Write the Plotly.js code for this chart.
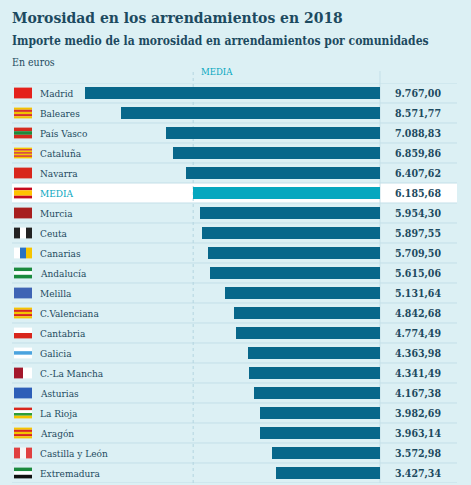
<!DOCTYPE html>
<html>
<head>
<meta charset="utf-8">
<script src="https://cdn.plot.ly/plotly-3.0.1.min.js"></script>
<style>
  html, body { margin: 0; padding: 0; background: #dcf0f4; }
  #chart { width: 471px; height: 485px; }
</style>
</head>
<body>
<div id="chart"></div>
<script>
// Importe medio de la morosidad (euros), 2018
var regions = ["Madrid", "Baleares", "País Vasco", "Cataluña", "Navarra", "MEDIA",
  "Murcia", "Ceuta", "Canarias", "Andalucía", "Melilla", "C.Valenciana", "Cantabria",
  "Galicia", "C.-La Mancha", "Asturias", "La Rioja", "Aragón", "Castilla y León", "Extremadura"];
var values = [9767.00, 8571.77, 7088.83, 6859.86, 6407.62, 6185.68,
  5954.30, 5897.55, 5709.50, 5615.06, 5131.64, 4842.68, 4774.49,
  4363.98, 4341.49, 4167.38, 3982.69, 3963.14, 3572.98, 3427.34];
var mediaIdx = regions.indexOf("MEDIA");

// flag stripes (orientation, colours)
var flags = [
  ["h", ["#e4211b"]],
  ["h", ["#f2c200", "#d8312a", "#f2c200", "#d8312a", "#f2c200"]],
  ["h", ["#d52b1e", "#1e8a3a", "#d52b1e"]],
  ["h", ["#f6c700", "#d8261c", "#f6c700", "#d8261c", "#f6c700", "#d8261c", "#f6c700"]],
  ["h", ["#d8261c"]],
  ["h", ["#c60b1e", "#ffc400", "#ffc400", "#c60b1e"]],
  ["h", ["#a71e1e"]],
  ["v", ["#222222", "#ffffff", "#222222"]],
  ["v", ["#ffffff", "#2a72c4", "#f5c400"]],
  ["h", ["#1b8a3e", "#ffffff", "#1b8a3e"]],
  ["h", ["#3f64b4"]],
  ["h", ["#f5c400", "#d8261c", "#f5c400", "#d8261c", "#f5c400"]],
  ["h", ["#ffffff", "#d8261c"]],
  ["h", ["#ffffff", "#4aa3df", "#ffffff"]],
  ["v", ["#a3172b", "#ffffff"]],
  ["h", ["#2e5fb8"]],
  ["h", ["#d8261c", "#ffffff", "#2e9e3a", "#f5c400"]],
  ["h", ["#f5c400", "#d8261c", "#f5c400", "#d8261c", "#f5c400"]],
  ["v", ["#e04040", "#f6f6f6", "#e04040"]],
  ["h", ["#1b8a3e", "#ffffff", "#111111"]]
];

var W = 471;
var dark = "#1c4a60";
var barDark = "#08678a";
var barMedia = "#06a7bf";
var lineCol = "#c3dfe8";

function fmt(v) {
  var parts = v.toFixed(2).split(".");
  return parts[0].replace(/\B(?=(\d{3})+(?!\d))/g, ".") + "," + parts[1];
}

var idx = regions.map(function (_, i) { return i; });

var data = [{
  type: "bar",
  orientation: "h",
  x: values,
  y: idx,
  width: 0.58,
  marker: { color: idx.map(function (i) { return i === mediaIdx ? barMedia : barDark; }) },
  hoverinfo: "skip"
}];

var shapes = [];
// white band for the MEDIA row
shapes.push({ type: "rect", layer: "below", xref: "paper", yref: "y",
  x0: 12 / W, x1: 457 / W, y0: mediaIdx - 0.5, y1: mediaIdx + 0.5,
  fillcolor: "#ffffff", line: { width: 0 } });
// row separators
for (var i = 0; i <= regions.length; i++) {
  shapes.push({ type: "line", layer: "below", xref: "paper", yref: "y",
    x0: 12 / W, x1: 457 / W, y0: i - 0.5, y1: i - 0.5,
    line: { color: lineCol, width: 1 } });
}
// baseline and average reference line
shapes.push({ type: "line", layer: "below", xref: "x", yref: "paper",
  x0: 0, x1: 0, y0: 0, y1: 1.03, line: { color: lineCol, width: 1 } });
shapes.push({ type: "line", layer: "below", xref: "x", yref: "paper",
  x0: values[mediaIdx], x1: values[mediaIdx], y0: 0, y1: 1.03,
  line: { color: "#b3d5e0", width: 1, dash: "dot" } });
// flags
regions.forEach(function (r, i) {
  var f = flags[i], cols = f[1], n = cols.length;
  var fx0 = 14 / W, fx1 = 32 / W, fy0 = i - 0.27, fy1 = i + 0.27;
  cols.forEach(function (c, k) {
    var s = { type: "rect", xref: "paper", yref: "y", fillcolor: c, line: { width: 0 } };
    if (f[0] === "h") {
      s.x0 = fx0; s.x1 = fx1;
      s.y0 = fy0 + (fy1 - fy0) * k / n; s.y1 = fy0 + (fy1 - fy0) * (k + 1) / n;
    } else {
      s.y0 = fy0; s.y1 = fy1;
      s.x0 = fx0 + (fx1 - fx0) * k / n; s.x1 = fx0 + (fx1 - fx0) * (k + 1) / n;
    }
    shapes.push(s);
  });
});

var serif = "DejaVu Serif";
var serifC = "DejaVu Serif Condensed, DejaVu Serif";
var annotations = [];
regions.forEach(function (r, i) {
  annotations.push({ xref: "paper", yref: "y", x: 38 / W, y: i, text: r,
    xanchor: "left", yanchor: "middle", showarrow: false,
    font: { family: serifC, size: 10, color: i === mediaIdx ? barMedia : dark } });
  annotations.push({ xref: "paper", yref: "y", x: 443 / W, y: i, text: "<b>" + fmt(values[i]) + "</b>",
    xanchor: "right", yanchor: "middle", showarrow: false,
    font: { family: serifC, size: 10.5, color: dark } });
});
annotations.push({ xref: "paper", yref: "paper", x: 10 / W, y: (483 - 18) / 400,
  text: "<b>Morosidad en los arrendamientos en 2018</b>", xanchor: "left", yanchor: "middle",
  showarrow: false, font: { family: serifC, size: 15.5, color: dark } });
annotations.push({ xref: "paper", yref: "paper", x: 10 / W, y: (483 - 41) / 400,
  text: "<b>Importe medio de la morosidad en arrendamientos por comunidades</b>", xanchor: "left",
  yanchor: "middle", showarrow: false, font: { family: serifC, size: 12, color: dark } });
annotations.push({ xref: "paper", yref: "paper", x: 10 / W, y: (483 - 62) / 400,
  text: "En euros", xanchor: "left", yanchor: "middle",
  showarrow: false, font: { family: serifC, size: 10.5, color: dark } });
annotations.push({ xref: "x", yref: "paper", x: values[mediaIdx] - 800, y: (483 - 72) / 400,
  text: "MEDIA", xanchor: "center", yanchor: "middle",
  showarrow: false, font: { family: serifC, size: 9.5, color: barMedia } });

var layout = {
  width: 471,
  height: 485,
  margin: { t: 83, r: 0, l: 0, b: 2 },
  paper_bgcolor: "#dcf0f4",
  plot_bgcolor: "#dcf0f4",
  showlegend: false,
  bargap: 0,
  xaxis: { range: [12581, -3013], showgrid: false, zeroline: false, showticklabels: false, fixedrange: true },
  yaxis: { range: [regions.length - 0.5, -0.5], showgrid: false, zeroline: false, showticklabels: false, fixedrange: true },
  shapes: shapes,
  annotations: annotations
};

Plotly.newPlot("chart", data, layout, { displayModeBar: false, staticPlot: true });
</script>
</body>
</html>
